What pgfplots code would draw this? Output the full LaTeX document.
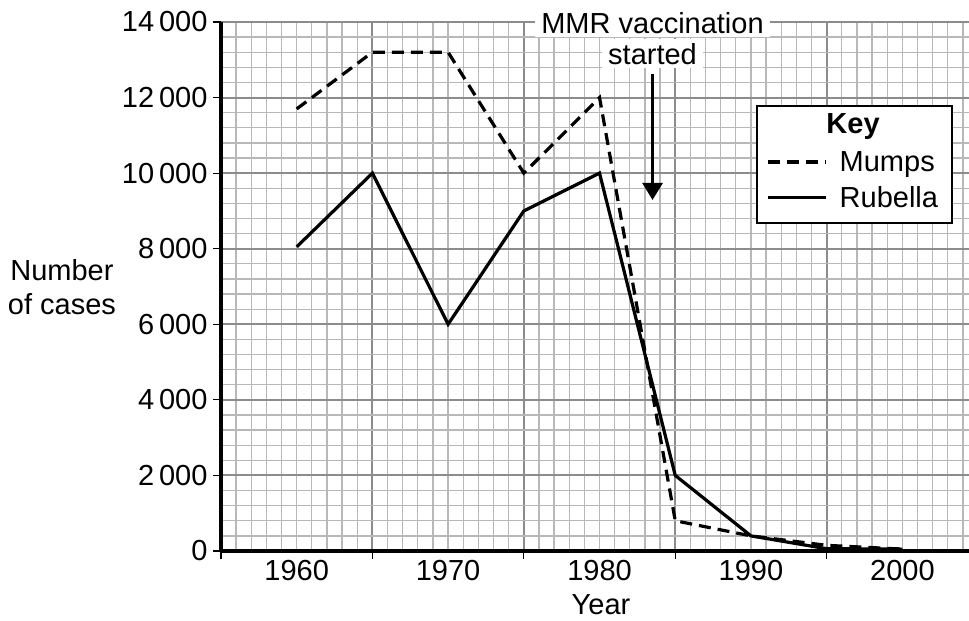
\documentclass[border=0pt]{standalone}
\usepackage{fontspec}
\setmainfont{Liberation Sans}
\usepackage{pgfplots}
\pgfplotsset{compat=1.18}
\usetikzlibrary{arrows.meta}
\newcommand{\bigf}{\fontsize{29}{34}\selectfont}
\begin{document}
\begin{tikzpicture}
\begin{axis}[
  at={(0pt,0pt)}, anchor=south west,
  scale only axis, width=748pt, height=529pt,
  xmin=1955, xmax=2004.4, ymin=0, ymax=14000,
  clip=false,
  scaled x ticks=false, scaled y ticks=false,
  axis x line*=bottom, axis y line*=left,
  axis line style={line width=4.5pt, black},
  xtick={1955,1965,1975,1985,1995},
  xticklabels={},
  minor xtick={1955,1956,...,2004},
  extra x ticks={1960,1970,1980,1990,2000},
  extra x tick labels={1960,1970,1980,1990,2000},
  extra x tick style={major tick length=0pt, grid=none},
  ytick={0,2000,...,14000},
  yticklabels={0,2\,000,4\,000,6\,000,8\,000,10\,000,12\,000,14\,000},
  minor ytick={400,800,...,13600},
  tick align=outside,
  major tick length=8pt, minor tick length=0pt,
  tick style={black, line width=1.2pt},
  grid=both,
  major grid style={color=black!45, line width=2pt},
  minor grid style={color=black!28, line width=1.3pt},
  tick label style={font=\bigf},
  xticklabel style={yshift=-6pt},
  yticklabel style={xshift=-2pt},
  label style={font=\bigf},
  xlabel={Year},
  xlabel style={at={(rel axis cs:0.508,-0.102)}, anchor=center},
  ylabel={Number\\of cases},
  ylabel style={rotate=-90, align=center, at={(rel axis cs:-0.2126,0.499)}, anchor=center},
  legend style={at={(rel axis cs:0.729,0.701)}, anchor=west, draw=none, fill=none,
    font=\bigf, inner sep=0pt, row sep=10pt, column sep=10pt, cells={anchor=west}},
  legend image code/.code={\draw[#1] (0pt,0pt) -- (58pt,0pt);},
]
\addplot[black, line width=3.2pt, dash pattern=on 12pt off 7pt] coordinates {
 (1960,11700) (1965,13200) (1970,13200) (1975,10000) (1980,12000)
 (1985,800) (1990,400) (1995,150) (2000,50)};
\addlegendentry{Mumps}
\addplot[black, line width=3.2pt] coordinates {
 (1960,8050) (1965,10000) (1970,6000) (1975,9000) (1980,10000)
 (1985,2000) (1990,400) (1995,60) (2000,50)};
\addlegendentry{Rubella}
\draw[black, line width=1.5pt, fill=white] (rel axis cs:0.7166,0.62) rectangle (rel axis cs:0.977,0.841);
\node[font=\bigf\bfseries] at (rel axis cs:0.845,0.803) {Key};
\node[fill=white, font=\bigf, anchor=base, inner xsep=6pt, inner ysep=4pt] at (axis cs:1983.5,13707) {MMR vaccination};
\node[fill=white, font=\bigf, anchor=base, inner xsep=6pt, inner ysep=4pt] at (axis cs:1983.5,12887) {started};
\draw[black, line width=2.6pt, -{Triangle[width=20pt,length=17pt]}] (axis cs:1983.5,12620) -- (axis cs:1983.5,9290);
\end{axis}
\pgfresetboundingbox
\useasboundingbox (-221pt,-70pt) rectangle (748pt,551pt);
\end{tikzpicture}
\end{document}
